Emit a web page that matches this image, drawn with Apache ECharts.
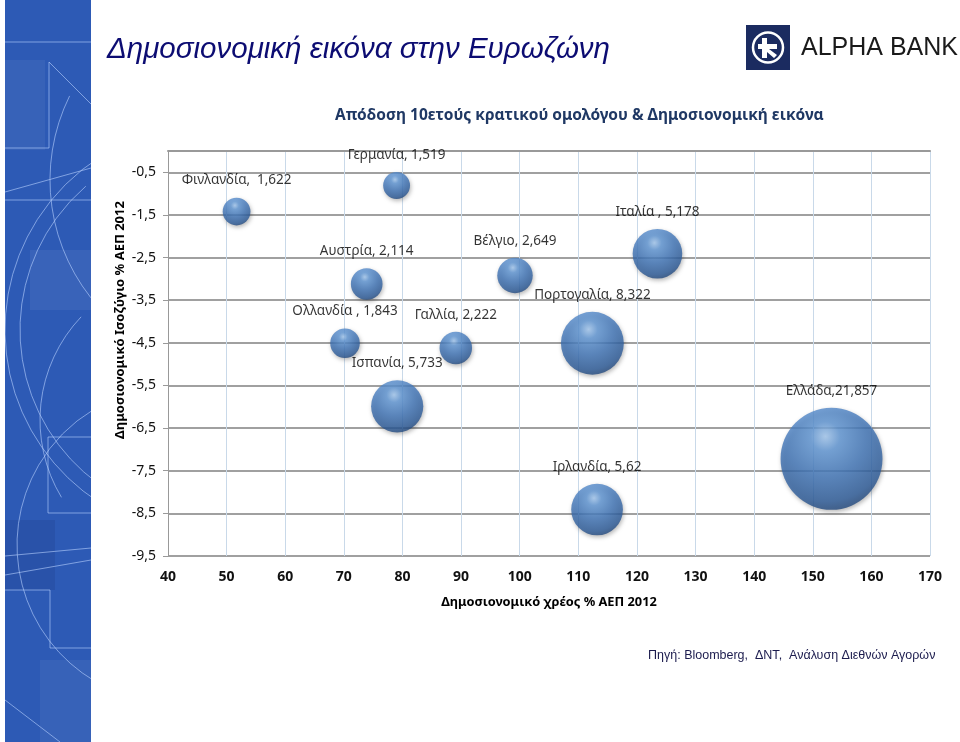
<!DOCTYPE html>
<html>
<head>
<meta charset="utf-8">
<script src="https://cdn.jsdelivr.net/npm/echarts@6/dist/echarts.min.js"></script>
<style>
html,body{margin:0;padding:0;background:#fff;}
#chart{width:960px;height:742px;}
</style>
</head>
<body>
<div id="chart"></div>
<script>
// ---- data ----
const countries = ['Φινλανδία','Γερμανία','Αυστρία','Βέλγιο','Ιταλία','Πορτογαλία','Ολλανδία','Γαλλία','Ισπανία','Ελλάδα','Ιρλανδία'];
const labelSeparators = [',  ', ', ', ', ', ', ', ' , ', ', ', ' , ', ', ', ', ', ',', ', '];
const debtPctGDP = [51.7, 79.0, 73.9, 99.2, 123.5, 112.4, 70.2, 89.1, 79.1, 153.2, 113.2];
const balancePctGDP = [-1.42, -0.81, -3.12, -2.92, -2.41, -4.51, -4.51, -4.62, -5.99, -7.22, -8.41];
const bondYield10y = [1.622, 1.519, 2.114, 2.649, 5.178, 8.322, 1.843, 2.222, 5.733, 21.857, 5.62];
const xTickValues = [40, 50, 60, 70, 80, 90, 100, 110, 120, 130, 140, 150, 160, 170];
const yTickValues = [-9.5, -8.5, -7.5, -6.5, -5.5, -4.5, -3.5, -2.5, -1.5, -0.5];

const fmt = v => String(v).replace('.', ',');
const seriesData = countries.map((c, i) => ({ name: c, value: [debtPctGDP[i], balancePctGDP[i], bondYield10y[i]] }));

const chart = echarts.init(document.getElementById('chart'), null, { renderer: 'canvas' });

const bandLine = 'rgba(185,210,255,0.6)';
function arc(cx, cy, r, a0, a1) {
  return { type: 'arc', z: 2, shape: { cx, cy, r, startAngle: a0, endAngle: a1 }, style: { stroke: bandLine, fill: null, lineWidth: 1 } };
}
function pl(points) {
  return { type: 'polyline', z: 2, shape: { points }, style: { stroke: bandLine, fill: null, lineWidth: 1 } };
}

const option = {
  animation: false,
  backgroundColor: '#fff',
  grid: { left: 168, right: 30, top: 151, bottom: 186, containLabel: false },
  xAxis: {
    type: 'value', min: 40, max: 170, interval: 10,
    name: 'Δημοσιονομικό χρέος % ΑΕΠ 2012',
    nameLocation: 'middle', nameGap: 40,
    nameTextStyle: { fontFamily: 'Noto Sans', fontWeight: 'bold', fontSize: 12.8, color: '#000' },
    axisLine: { show: true, lineStyle: { color: '#999', width: 2 } },
    axisTick: { show: false },
    axisLabel: { margin: 14, fontFamily: 'Noto Sans', fontWeight: 'bold', fontSize: 14, color: '#111',
      formatter: v => xTickValues.includes(v) ? String(v) : '' },
    splitLine: { show: true, lineStyle: { color: '#c9d9e9', width: 1 } }
  },
  yAxis: {
    type: 'value', min: -9.5, max: 0, interval: 1,
    axisLine: { show: true, lineStyle: { color: '#999', width: 1 } },
    axisTick: { show: true, length: 5, lineStyle: { color: '#999' } },
    axisLabel: { margin: 12, fontFamily: 'Noto Sans', fontSize: 14, color: '#111', showMaxLabel: false,
      formatter: v => yTickValues.includes(v) ? fmt(v) : '' },
    splitLine: { show: true, lineStyle: { color: '#a0a0a0', width: 1.8 } }
  },
  series: [{
    type: 'scatter',
    data: seriesData,
    symbol: 'circle',
    symbolSize: val => 21.8 * Math.sqrt(val[2]),
    itemStyle: {
      color: {
        type: 'radial', x: 0.44, y: 0.28, r: 0.8,
        colorStops: [
          { offset: 0, color: '#a6cbf3' },
          { offset: 0.18, color: '#6299d8' },
          { offset: 0.5, color: '#4277ba' },
          { offset: 0.8, color: '#2d5c9a' },
          { offset: 1, color: '#1b3a67' }
        ]
      },
      shadowBlur: 4, shadowColor: 'rgba(0,0,0,0.35)', shadowOffsetX: 1, shadowOffsetY: 2
    },
    label: {
      show: true, position: 'top', distance: 10,
      fontFamily: 'Noto Sans', fontSize: 13.5, color: '#000',
      formatter: p => countries[p.dataIndex] + labelSeparators[p.dataIndex] + fmt(bondYield10y[p.dataIndex])
    },
    emphasis: { disabled: true }
  }],
  graphic: [
    // left decorative band
    { type: 'rect', z: 1, shape: { x: 5, y: 0, width: 86, height: 742 }, style: { fill: '#2d5ab5' } },
    { type: 'rect', z: 1, shape: { x: 5, y: 60, width: 40, height: 90 }, style: { fill: 'rgba(255,255,255,0.05)' } },
    { type: 'rect', z: 1, shape: { x: 30, y: 250, width: 61, height: 60 }, style: { fill: 'rgba(255,255,255,0.06)' } },
    { type: 'rect', z: 1, shape: { x: 5, y: 520, width: 50, height: 70 }, style: { fill: 'rgba(0,0,40,0.08)' } },
    { type: 'rect', z: 1, shape: { x: 40, y: 660, width: 51, height: 82 }, style: { fill: 'rgba(255,255,255,0.05)' } },
    pl([[5, 42], [91, 42]]),
    pl([[91, 104], [49, 62], [49, 148], [5, 148]]),
    arc(210, 330, 205, 2.14, 4.15),
    arc(210, 330, 190, 2.2, 4.0),
    arc(240, 180, 190, 2.4, 3.6),
    pl([[5, 192], [91, 168]]),
    pl([[5, 200], [91, 200]]),
    arc(175, 545, 158, 2.1, 4.17),
    arc(190, 420, 150, 2.6, 3.9),
    pl([[91, 437], [48, 437], [48, 513], [91, 513]]),
    pl([[5, 590], [50, 590], [50, 648], [91, 648]]),
    pl([[5, 556], [91, 548]]),
    pl([[5, 575], [91, 560]]),
    pl([[5, 700], [60, 742]]),
    { type: 'rect', z: 3, shape: { x: 0, y: 0, width: 5, height: 742 }, style: { fill: '#fff' } },
    { type: 'rect', z: 3, shape: { x: 91, y: 0, width: 14, height: 742 }, style: { fill: '#fff' } },
    // main heading
    { type: 'text', z: 5, left: 107, top: 35,
      style: { text: 'Δημοσιονομική εικόνα στην Ευρωζώνη', fontFamily: 'Liberation Sans', fontStyle: 'italic', fontSize: 29.5, fill: '#0c0c72' } },
    // logo
    { type: 'rect', z: 5, shape: { x: 746, y: 25, width: 44, height: 45 }, style: { fill: '#1b2b60' } },
    { type: 'circle', z: 6, shape: { cx: 768, cy: 47.5, r: 15 }, style: { stroke: '#fff', lineWidth: 2.5, fill: null } },
    { type: 'polygon', z: 6, shape: { points: [[762, 38], [767, 38], [767, 44], [777, 44], [777, 49], [769, 49], [777, 55], [774, 58], [767, 52], [767, 58], [762, 58], [762, 49], [758, 49], [758, 44], [762, 44]] }, style: { fill: '#fff' } },
    { type: 'text', z: 5, left: 801, top: 36,
      style: { text: 'ALPHA BANK', fontFamily: 'Liberation Sans', fontSize: 25, fill: '#1a1a1a' } },
    // chart title
    { type: 'text', z: 5, left: 335, top: 108,
      style: { text: 'Απόδοση 10ετούς κρατικού ομολόγου & Δημοσιονομική εικόνα', fontFamily: 'Noto Sans', fontWeight: 'bold', fontSize: 15.5, fill: '#1f3864' } },
    // y axis title
    { type: 'text', z: 5, x: 120, y: 320, rotation: Math.PI / 2,
      style: { text: 'Δημοσιονομικό Ισοζύγιο % ΑΕΠ 2012', fontFamily: 'Noto Sans', fontWeight: 'bold', fontSize: 13, fill: '#000', textAlign: 'center', textVerticalAlign: 'middle' } },
    // source
    { type: 'text', z: 5, left: 648, top: 649,
      style: { text: 'Πηγή: Bloomberg,  ΔΝΤ,  Ανάλυση Διεθνών Αγορών', fontFamily: 'Liberation Sans', fontSize: 12.5, fill: '#1c1c4e' } }
  ]
};
chart.setOption(option);
</script>
</body>
</html>
